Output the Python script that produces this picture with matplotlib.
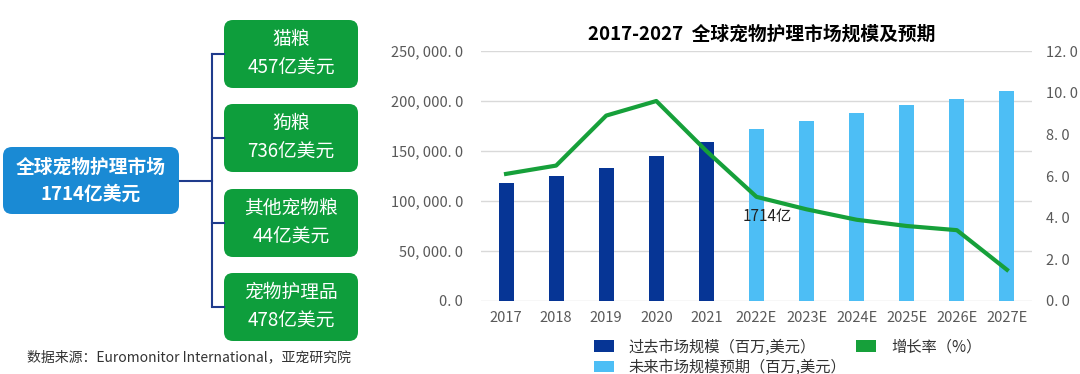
import numpy as np
import matplotlib.pyplot as plt
from matplotlib.patches import FancyBboxPatch, Patch

plt.rcParams['font.family'] = ['Noto Sans CJK SC', 'DejaVu Sans']

# data
years = ['2017', '2018', '2019', '2020', '2021',
         '2022E', '2023E', '2024E', '2025E', '2026E', '2027E']
past_size = [118000, 125300, 133300, 145300, 159300]
future_size = [172300, 180300, 188300, 196000, 202300, 210000]
growth = [6.1, 6.5, 8.9, 9.6, 7.2, 5.0, 4.4, 3.9, 3.6, 3.4, 1.5]

total_label = '全球宠物护理市场\n1714亿美元'
seg_names = ['猫粮', '狗粮', '其他宠物粮', '宠物护理品']
seg_values = ['457亿美元', '736亿美元', '44亿美元', '478亿美元']

W, H = 1080, 374
fig = plt.figure(figsize=(W / 100, H / 100), dpi=100)

# ---- left diagram (pixel coords) ----
dg = fig.add_axes([0, 0, 1, 1])
dg.set_xlim(0, W)
dg.set_ylim(H, 0)
dg.axis('off')

line_c = '#1f3b8c'
blue_box = FancyBboxPatch((3, 147), 176, 67, boxstyle='round,pad=0,rounding_size=9',
                          fc='#1a8ad4', ec='none')
dg.add_patch(blue_box)
dg.text(91, 181, total_label, ha='center', va='center', color='white',
        fontsize=13.5, fontweight='bold', linespacing=1.55)

box_tops = [20, 104, 189, 273]
dg.plot([180, 212], [181, 181], color=line_c, lw=1.5)
dg.plot([212, 212], [54, 306], color=line_c, lw=1.5)
for top, name, val in zip(box_tops, seg_names, seg_values):
    cy = top + 34
    dg.plot([212, 224], [cy, cy], color=line_c, lw=1.5)
    dg.add_patch(FancyBboxPatch((224, top), 134, 68,
                                boxstyle='round,pad=0,rounding_size=9',
                                fc='#0e9e3c', ec='none'))
    dg.text(291, cy, name + '\n' + val, ha='center', va='center', color='white',
            fontsize=13.5, fontweight='medium', linespacing=1.5)

dg.text(27, 357, '数据来源：Euromonitor International，亚宠研究院',
        ha='left', va='center', fontsize=10, color='#333333')

# ---- chart ----
ax = fig.add_axes([481 / W, 1 - 301 / H, 551 / W, 250 / H])
x = np.arange(len(years))
n_past = len(past_size)
ax.bar(x[:n_past], past_size, width=0.3, color='#063595', zorder=2)
ax.bar(x[n_past:], future_size, width=0.3, color='#4dbef5', zorder=2)
ax.set_xlim(-0.5, len(years) - 0.5)
ax.set_ylim(0, 250000)
ax.set_yticks(np.arange(0, 250001, 50000))
ax.set_yticklabels(['{:,}. 0'.format(v).replace(',', ', ') for v in range(0, 250001, 50000)])
ax.set_xticks(x)
ax.set_xticklabels(years)
ax.grid(axis='y', color='#d9d9d9', lw=1, zorder=0)
for s in ax.spines.values():
    s.set_visible(False)
ax.tick_params(length=0, labelsize=10.5, labelcolor='#595959', pad=7)
ax.tick_params(axis='y', pad=13)

ax2 = ax.twinx()
ax2.plot(x, growth, color='#16a03a', lw=3, zorder=3)
ax2.set_ylim(0, 12)
ax2.set_yticks(np.arange(0, 12.1, 2))
ax2.set_yticklabels(['{:.0f}. 0'.format(v) for v in np.arange(0, 12.1, 2)])
for s in ax2.spines.values():
    s.set_visible(False)
ax2.tick_params(length=0, labelsize=10.5, labelcolor='#595959', pad=10)

ax.text(5.22, 84000, '1714亿', ha='center', va='center', fontsize=11,
        color='#222222', zorder=5)

ax.set_title('2017-2027  全球宠物护理市场规模及预期', fontsize=13.5,
             fontweight='bold', pad=8, x=0.51)

handles = [Patch(fc='#063595', ec='none'), Patch(fc='#4dbef5', ec='none'),
           Patch(fc='#16a03a', ec='none')]
labels = ['过去市场规模（百万,美元）', '未来市场规模预期（百万,美元）', '增长率（%）']
fig.legend(handles, labels, ncol=2, loc='upper left',
           bbox_to_anchor=(586 / W, 1 - 331 / H), frameon=False,
           fontsize=11, handlelength=1.3, handleheight=0.8,
           columnspacing=0.6, labelspacing=0.2, handletextpad=1.0,
           borderpad=0, labelcolor='#333333')

fig.savefig('out.png', dpi=100)
